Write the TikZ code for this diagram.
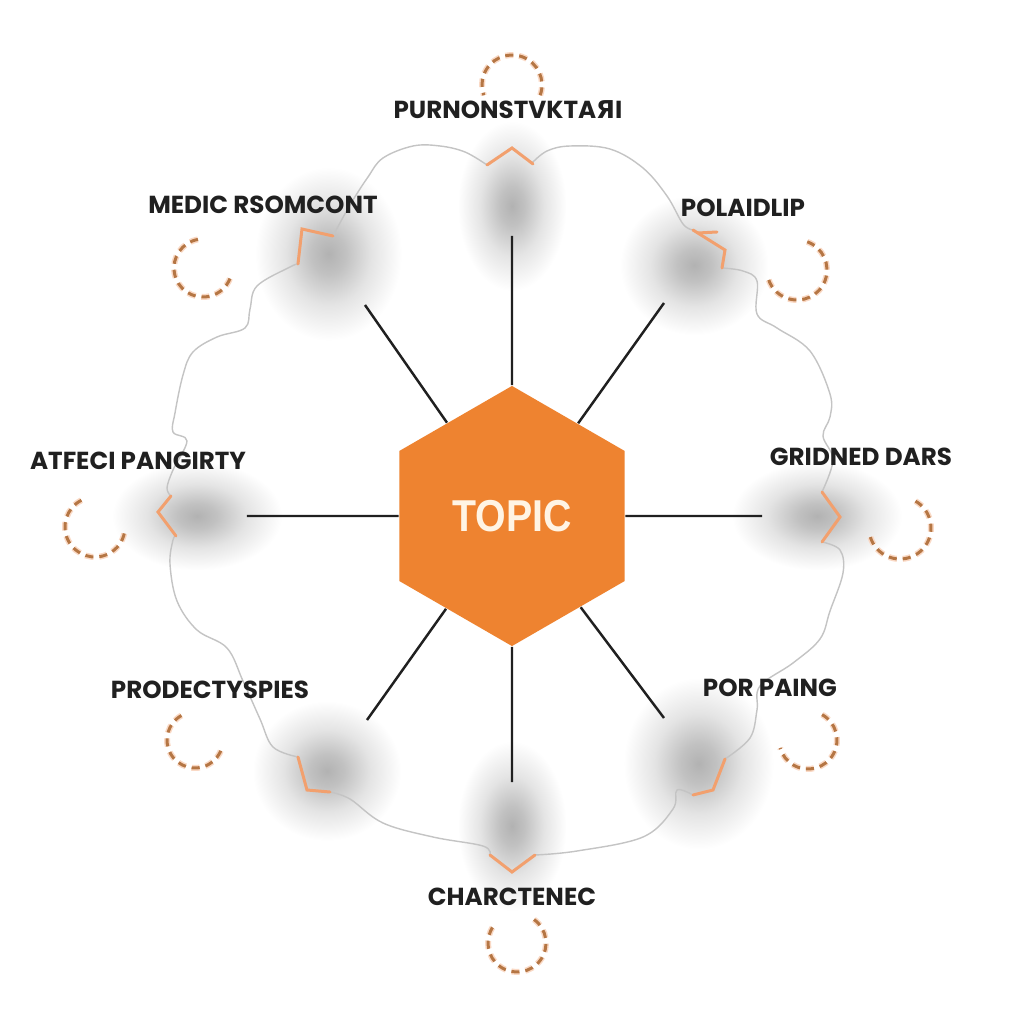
\documentclass[tikz,border=0pt]{standalone}
\usepackage{fontspec}
\setmainfont{Poppins}
\newfontfamily\TopicFont[FakeStretch=0.88]{Liberation Sans}
\newfontfamily\CyrFont{DejaVu Sans}
\usetikzlibrary{shapes.geometric}

\definecolor{HexOrange}{RGB}{238,131,48}
\definecolor{TopicText}{RGB}{255,244,228}
\definecolor{TickOrange}{RGB}{242,160,110}
\definecolor{RingBrown}{RGB}{181,118,68}
\definecolor{RimGray}{RGB}{196,196,196}
\definecolor{InkBlack}{RGB}{32,32,32}
\definecolor{GlowGray}{RGB}{178,178,178}

\pgfdeclareradialshading{glow}{\pgfpoint{0bp}{0bp}}{color(0bp)=(GlowGray);
    color(4bp)=(GlowGray!80!white); color(10bp)=(GlowGray!35!white);
    color(17bp)=(white); color(50bp)=(white)}

\begin{document}
\begin{tikzpicture}[x=0.01cm, y=0.01cm,
    hexagon/.style={regular polygon, regular polygon sides=6, shape border rotate=30,
        minimum size=2.6cm, inner sep=0pt, fill=HexOrange, text=TopicText,
        font=\TopicFont\bfseries\fontsize{12.7}{14}\selectfont},
    spoke/.style={draw=InkBlack, line width=0.7pt},
    rim/.style={draw=RimGray, line width=0.4pt},
    tick/.style={draw=TickOrange, line width=0.85pt, line cap=round, line join=miter},
    ring/.style={draw=RingBrown, line width=0.85pt, dash pattern=on 2.3pt off 1.7pt,
        preaction={draw=TickOrange!40, line width=1.7pt, dash pattern=on 2.3pt off 1.7pt}},
    blob/.style={shading=glow},
    branch/.style={font=\bfseries\fontsize{7}{8}\selectfont, text=InkBlack, inner sep=0pt}]

    \fill[white] (-512,-508) rectangle (512,516);
    \useasboundingbox (-512,-508) rectangle (512,516);

    \shade[blob, rotate around={90:(90:310)}] (90:310) ellipse [x radius=125, y radius=80];
    \shade[blob, rotate around={54:(54:310)}] (54:310) ellipse [x radius=125, y radius=80];
    \shade[blob, rotate around={0:(0:305)}] (0:305) ellipse [x radius=125, y radius=80];
    \shade[blob, rotate around={-53:(-53:310)}] (-53:310) ellipse [x radius=125, y radius=80];
    \shade[blob, rotate around={-90:(-90:310)}] (-90:310) ellipse [x radius=125, y radius=80];
    \shade[blob, rotate around={234:(234:315)}] (234:315) ellipse [x radius=125, y radius=80];
    \shade[blob, rotate around={180:(180:315)}] (180:315) ellipse [x radius=125, y radius=80];
    \shade[blob, rotate around={125:(125:320)}] (125:320) ellipse [x radius=125, y radius=80];

    \draw[rim] plot[smooth, tension=0.6] coordinates {(-179,280) (-162,311) (-144,339) (-129,358) (-99,370) (-72,370) (-47,364) (-25,351)};
    \draw[rim] plot[smooth, tension=0.6] coordinates {(20,353) (35,365) (58,370) (98,367) (131,348) (155,320) (171,292) (181,286)};
    \draw[rim] plot[smooth, tension=0.6] coordinates {(210,248) (231,245) (245,235) (245,202) (265,188) (298,165) (318,122) (318,99) (311,80) (321,56) (310,24)};
    \draw[rim] plot[smooth, tension=0.6] coordinates {(310,-26) (328,-34) (331,-57) (318,-95) (308,-123) (281,-147) (248,-170) (245,-194) (238,-222) (213,-243)};
    \draw[rim] plot[smooth, tension=0.6] coordinates {(181,-279) (165,-274) (161,-293) (131,-321) (65,-335) (23,-339)};
    \draw[rim] plot[smooth, tension=0.6] coordinates {(-22,-339) (-29,-330) (-79,-321) (-129,-307) (-162,-283) (-182,-276)};
    \draw[rim] plot[smooth, tension=0.6] coordinates {(-214,-241) (-239,-231) (-252,-203) (-269,-165) (-285,-132) (-315,-114) (-335,-85) (-342,-48) (-339,-24) (-336,-20)};
    \draw[rim] plot[smooth, tension=0.6] coordinates {(-341,20) (-345,28) (-339,46) (-325,75) (-339,84) (-337,103) (-329,141) (-319,164) (-295,179) (-267,188) (-262,207) (-255,230) (-222,249) (-214,252)};

    \draw[tick] (-25,351) -- (0,368) -- (21,352);
    \draw[tick] (181,286) -- (213,266) -- (210,248);
    \draw[tick] (186,283) -- (205,284);
    \draw[tick] (310,24) -- (328,-1) -- (310,-26);
    \draw[tick] (213,-243) -- (201,-274) -- (181,-279);
    \draw[tick] (23,-339) -- (0,-356) -- (-22,-339);
    \draw[tick] (-182,-276) -- (-205,-274) -- (-214,-241);
    \draw[tick] (-336,-20) -- (-354,4) -- (-341,20);
    \draw[tick] (-214,252) -- (-210,287) -- (-179,280);

    \node[hexagon] (Topic) at (0,0) {TOPIC};

    \coordinate (EndTop) at (0,280);
    \coordinate (EndTopRight) at (152,213);
    \coordinate (EndRight) at (250,0);
    \coordinate (EndBottomRight) at (152,-202);
    \coordinate (EndBottom) at (0,-266);
    \coordinate (EndBottomLeft) at (-145,-204);
    \coordinate (EndLeft) at (-265,0);
    \coordinate (EndTopLeft) at (-147,211);

    \draw[spoke] (Topic) -- (EndTop);
    \draw[spoke] (Topic) -- (EndTopRight);
    \draw[spoke] (Topic) -- (EndRight);
    \draw[spoke] (Topic) -- (EndBottomRight);
    \draw[spoke] (Topic) -- (EndBottom);
    \draw[spoke] (Topic) -- (EndBottomLeft);
    \draw[spoke] (Topic) -- (EndLeft);
    \draw[spoke] (Topic) -- (EndTopLeft);

    \node[branch] (LabelTop) at (-4,406) {PURNONSTVKTA{\CyrFont\bfseries Я}I};
    \node[branch] (LabelTopLeft) at (-249,311) {MEDIC RSOMCONT};
    \node[branch] (LabelTopRight) at (231,308) {POLAIDLIP};
    \node[branch] (LabelLeft) at (-374,55) {ATFECI PANGIRTY};
    \node[branch] (LabelRight) at (349,59) {GRIDNED DARS};
    \node[branch] (LabelBottomLeft) at (-302,-174) {PRODECTYSPIES};
    \node[branch] (LabelBottomRight) at (258,-172) {POR PAING};
    \node[branch] (LabelBottom) at (0,-381) {CHARCTENEC};

    \draw[ring] (0,431) ++(-20:30) arc[start angle=-20, end angle=200, radius=30];
    \draw[ring] (-309,248) ++(100:29) arc[start angle=100, end angle=350, radius=29];
    \draw[ring] (285,246) ++(70:30) arc[start angle=70, end angle=-170, radius=30];
    \draw[ring] (-417,-11) ++(117:30) arc[start angle=117, end angle=350, radius=30];
    \draw[ring] (388,-12) ++(60:31) arc[start angle=60, end angle=-164, radius=31];
    \draw[ring] (-317,-224) ++(119:28) arc[start angle=119, end angle=344, radius=28];
    \draw[ring] (296,-224) ++(61:29) arc[start angle=61, end angle=-164, radius=29];
    \draw[ring] (5,-427) ++(54:29) arc[start angle=54, end angle=-216, radius=29];
\end{tikzpicture}
\end{document}
